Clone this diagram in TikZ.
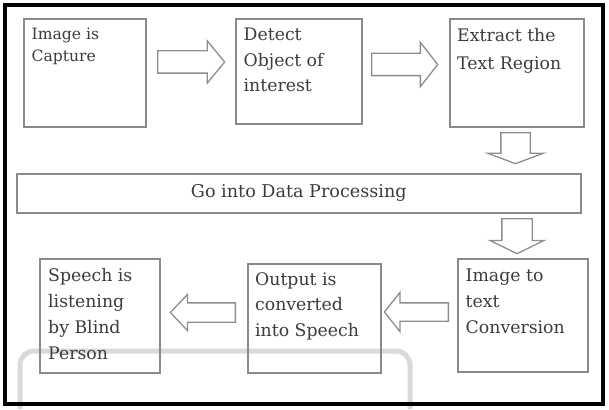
\documentclass[tikz,border=0pt]{standalone}
\usepackage{fontspec}
\setmainfont{DejaVu Serif}
\usetikzlibrary{shapes.arrows}
\definecolor{boxgray}{HTML}{8A8A8A}
\definecolor{arrowgray}{HTML}{8E8E8E}
\definecolor{textgray}{HTML}{3C3C3C}
\definecolor{wmgray}{HTML}{DADADA}
\newcommand\boxlines[3][17.3pt]{\parbox[t]{170pt}{\raggedright\fontsize{#1}{#2}\selectfont #3}}
\tikzset{
  box/.style={draw=boxgray, line width=1.6pt, rectangle, inner sep=0pt, anchor=north west, text=textgray, font=\fontsize{17.6pt}{20pt}\selectfont},
  lbl/.style={anchor=base west, inner sep=0pt, text=textgray},
  blockarrow/.style={draw=arrowgray, line width=1.3pt, fill=white, shape=single arrow, inner xsep=0pt, single arrow head indent=0pt, anchor=tail},
  watermark/.style={draw=wmgray, line width=5pt, rounded corners=14pt},
  frame/.style={draw=black, line width=4pt}
}
\begin{document}
\begin{tikzpicture}[x=1pt, y=-1pt]
\useasboundingbox (0,0) rectangle (609,409);
\fill[white] (0,0) rectangle (609,409);
% faint watermark
\draw[watermark] (20,409) -- (20,351) -- (410,351) -- (410,409);
% boxes
\node[box, minimum width=122pt, minimum height=108pt] (b1) at (23,18) {};
\node[box, minimum width=126pt, minimum height=105pt] (b2) at (235,18) {};
\node[box, minimum width=134pt, minimum height=108pt] (b3) at (449,18) {};
\node[box, minimum width=564pt, minimum height=39pt] (dp) at (16,173) {Go into Data Processing};
\node[box, minimum width=130pt, minimum height=113pt] (b4) at (457,258) {};
\node[box, minimum width=133pt, minimum height=109pt] (b5) at (247,263) {};
\node[box, minimum width=120pt, minimum height=114pt] (b6) at (39,258) {};
% texts
\node[lbl] (t1) at (31.5,40) {\boxlines[15.6pt]{21.5pt}{Image is\\Capture}};
\node[lbl] (t2) at (243.5,41) {\boxlines{25.5pt}{Detect\\Object of\\interest}};
\node[lbl] (t3) at (457,41.5) {\boxlines{28pt}{Extract the\\Text Region}};
\node[lbl] (t4) at (465.5,281) {\boxlines{26pt}{Image to\\text\\Conversion}};
\node[lbl] (t5) at (255,285) {\boxlines{25.5pt}{Output is\\converted\\into Speech}};
\node[lbl] (t6) at (48,281) {\boxlines{26pt}{Speech is\\listening\\by Blind\\Person}};
% block arrows (inner ysep = half shaft width)
\node[blockarrow, inner ysep=10.5pt, minimum height=67pt, single arrow head extend=10pt, single arrow tip angle=101] (a1) at (157,62) {};
\node[blockarrow, inner ysep=10.5pt, minimum height=66pt, single arrow head extend=11pt, single arrow tip angle=104] (a2) at (371,64.5) {};
\node[blockarrow, rotate=-90, inner ysep=14pt, minimum height=31pt, single arrow head extend=13pt, single arrow tip angle=139] (a3) at (515.5,132) {};
\node[blockarrow, rotate=-90, inner ysep=14.5pt, minimum height=35pt, single arrow head extend=12pt, single arrow tip angle=128] (a4) at (517,218) {};
\node[blockarrow, rotate=180, inner ysep=8.5pt, minimum height=64pt, single arrow head extend=10.5pt, single arrow tip angle=103] (a5) at (449,312) {};
\node[blockarrow, rotate=180, inner ysep=9pt, minimum height=65pt, single arrow head extend=8.5pt, single arrow tip angle=93] (a6) at (236,312.5) {};
% outer frame
\draw[frame] (5,5) rectangle (602.5,404);
\end{tikzpicture}
\end{document}
